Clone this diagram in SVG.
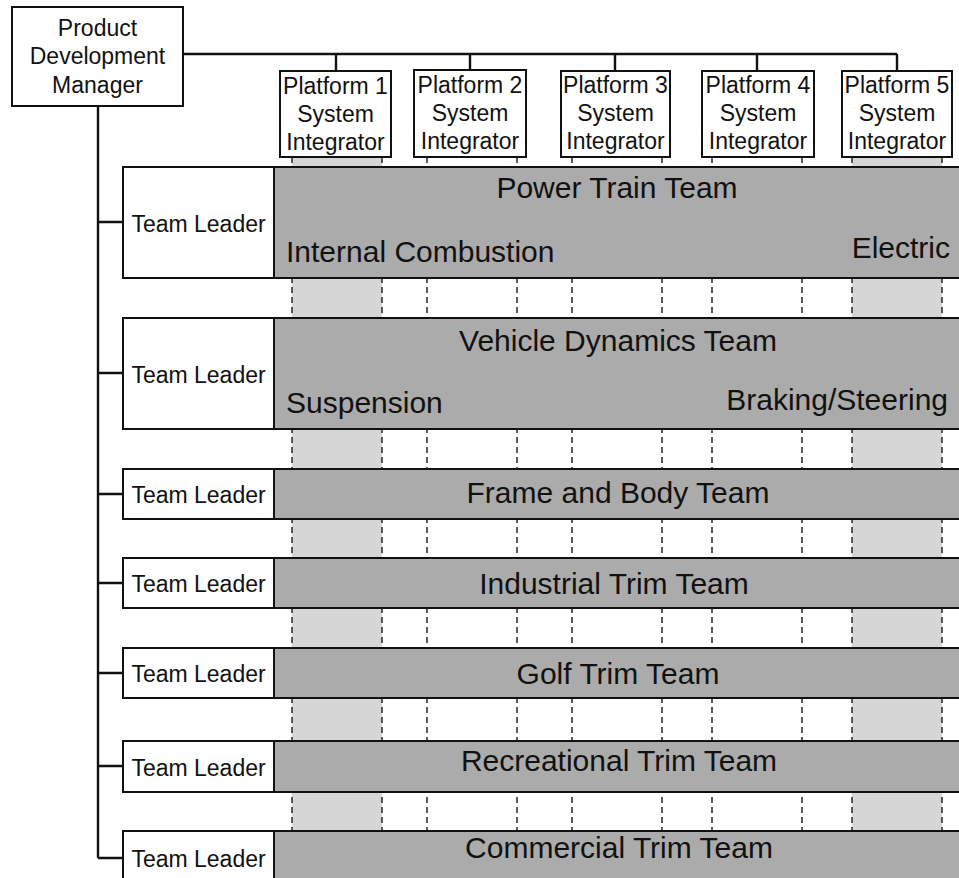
<svg xmlns="http://www.w3.org/2000/svg" width="959" height="878" viewBox="0 0 959 878">
  <style>
    .box{fill:#fff;stroke:#111;stroke-width:2}
    .band{fill:#ababab;stroke:#111;stroke-width:2}
    .col{fill:#d6d6d6}
    .dash{stroke:#333;stroke-width:1.6;stroke-dasharray:6 4;fill:none}
    .wire{stroke:#111;stroke-width:2.4;fill:none}
    text{font-family:"Liberation Sans",Arial,sans-serif;fill:#111}
    .lbl{font-size:23px;text-anchor:middle}
    .team{font-size:30px}
    .mid{text-anchor:middle}
    .end{text-anchor:end}
  </style>

  <!-- platform columns running down behind the team bands -->
  <g id="columns">
    <rect class="col" x="292" y="157" width="90" height="721"/>
    <rect class="col" x="852" y="157" width="90" height="721"/>
    <path class="dash" d="M292 157V878M382 157V878M427 157V878M517 157V878M572 157V878M662 157V878M712 157V878M802 157V878M852 157V878M942 157V878"/>
  </g>

  <g id="connectors">
    <path class="wire" d="M183 54H897M336 54V71M470 54V70M615 54V71M757 54V71M897 54V71"/>
    <path class="wire" d="M98 106V858M98 222H123M98 373H123M98 494H123M98 583H123M98 673H123M98 766H123M98 858H123"/>
  </g>

  <g id="manager">
    <rect class="box" x="12" y="7" width="171" height="99"/>
    <text class="lbl" x="97.5" y="36">Product</text>
    <text class="lbl" x="97.5" y="64">Development</text>
    <text class="lbl" x="97.5" y="93">Manager</text>
  </g>

  <g id="platform1">
    <rect class="box" x="280" y="71" width="111" height="86"/>
    <text class="lbl" x="335.5" y="94">Platform 1</text>
    <text class="lbl" x="335.5" y="122">System</text>
    <text class="lbl" x="335.5" y="150">Integrator</text>
  </g>
  <g id="platform2">
    <rect class="box" x="414" y="70" width="112" height="87"/>
    <text class="lbl" x="470" y="93">Platform 2</text>
    <text class="lbl" x="470" y="121">System</text>
    <text class="lbl" x="470" y="149">Integrator</text>
  </g>
  <g id="platform3">
    <rect class="box" x="561" y="71" width="109" height="86"/>
    <text class="lbl" x="615.5" y="93">Platform 3</text>
    <text class="lbl" x="615.5" y="121">System</text>
    <text class="lbl" x="615.5" y="149">Integrator</text>
  </g>
  <g id="platform4">
    <rect class="box" x="702" y="71" width="112" height="86"/>
    <text class="lbl" x="758" y="93">Platform 4</text>
    <text class="lbl" x="758" y="121">System</text>
    <text class="lbl" x="758" y="149">Integrator</text>
  </g>
  <g id="platform5">
    <rect class="box" x="842" y="71" width="110" height="86"/>
    <text class="lbl" x="897" y="93">Platform 5</text>
    <text class="lbl" x="897" y="121">System</text>
    <text class="lbl" x="897" y="149">Integrator</text>
  </g>

  <g id="power-train">
    <rect class="band" x="274" y="167" width="700" height="111"/>
    <rect class="box" x="123" y="167" width="151" height="111"/>
    <text class="lbl" x="198.5" y="232">Team Leader</text>
    <text class="team mid" x="617" y="198">Power Train Team</text>
    <text class="team" x="286" y="262">Internal Combustion</text>
    <text class="team end" x="950" y="258">Electric</text>
  </g>

  <g id="vehicle-dynamics">
    <rect class="band" x="274" y="318" width="700" height="111"/>
    <rect class="box" x="123" y="318" width="151" height="111"/>
    <text class="lbl" x="198.5" y="383">Team Leader</text>
    <text class="team mid" x="618" y="351">Vehicle Dynamics Team</text>
    <text class="team" x="286" y="413">Suspension</text>
    <text class="team end" x="948" y="410">Braking/Steering</text>
  </g>

  <g id="frame-body">
    <rect class="band" x="274" y="469" width="700" height="50"/>
    <rect class="box" x="123" y="469" width="151" height="50"/>
    <text class="lbl" x="198.5" y="503">Team Leader</text>
    <text class="team mid" x="618" y="503">Frame and Body Team</text>
  </g>

  <g id="industrial-trim">
    <rect class="band" x="274" y="558" width="700" height="50"/>
    <rect class="box" x="123" y="558" width="151" height="50"/>
    <text class="lbl" x="198.5" y="592">Team Leader</text>
    <text class="team mid" x="614" y="594">Industrial Trim Team</text>
  </g>

  <g id="golf-trim">
    <rect class="band" x="274" y="648" width="700" height="50"/>
    <rect class="box" x="123" y="648" width="151" height="50"/>
    <text class="lbl" x="198.5" y="682">Team Leader</text>
    <text class="team mid" x="618" y="684">Golf Trim Team</text>
  </g>

  <g id="recreational-trim">
    <rect class="band" x="274" y="741" width="700" height="51"/>
    <rect class="box" x="123" y="741" width="151" height="51"/>
    <text class="lbl" x="198.5" y="776">Team Leader</text>
    <text class="team mid" x="619" y="771">Recreational Trim Team</text>
  </g>

  <g id="commercial-trim">
    <rect class="band" x="274" y="831" width="700" height="60"/>
    <rect class="box" x="123" y="831" width="151" height="60"/>
    <text class="lbl" x="198.5" y="867">Team Leader</text>
    <text class="team mid" x="619" y="858">Commercial Trim Team</text>
  </g>
</svg>
